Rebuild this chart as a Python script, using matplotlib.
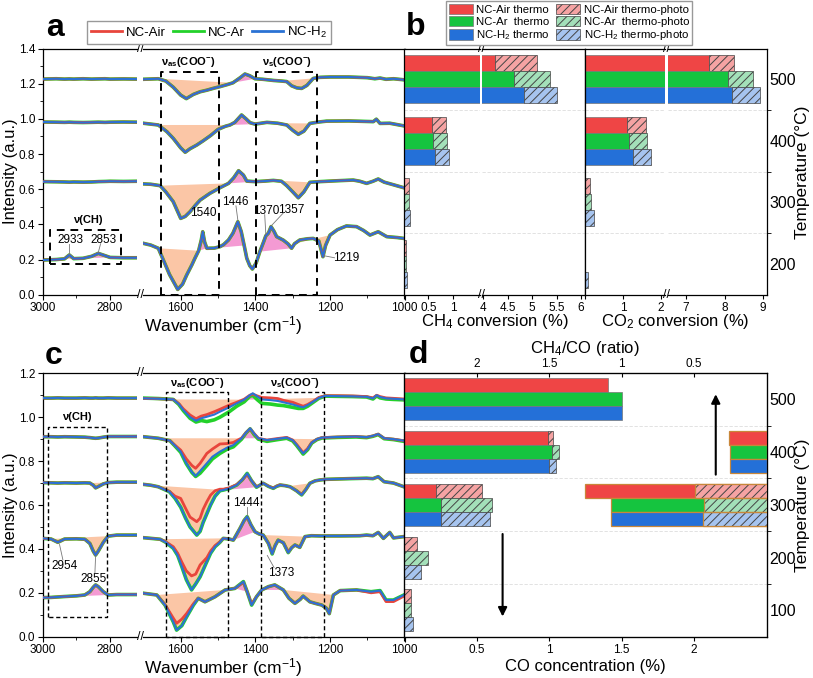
import numpy as np
import matplotlib.pyplot as plt
from matplotlib.lines import Line2D
from matplotlib.patches import Patch
from matplotlib.ticker import FormatStrFormatter

plt.rcParams['font.family'] = ['Liberation Sans', 'DejaVu Sans']
plt.rcParams['mathtext.fontset'] = 'custom'
plt.rcParams['mathtext.rm'] = 'Liberation Sans'
plt.rcParams['mathtext.it'] = 'Liberation Sans:italic'
plt.rcParams['mathtext.bf'] = 'Liberation Sans:bold'
plt.rcParams['hatch.linewidth'] = 0.7

# ---------------- panel a : DRIFTS spectra (NC samples) ----------------
a_ch_wn = [3000, 2960, 2935, 2921, 2908, 2880, 2855, 2835, 2815, 2800, 2760, 2720]
a500_ch = [1.226, 1.228, 1.226, 1.227, 1.226, 1.228, 1.226, 1.227, 1.228, 1.226, 1.227, 1.226]
a400_ch = [0.982, 0.981, 0.98, 0.981, 0.98, 0.979, 0.98, 0.981, 0.98, 0.981, 0.982, 0.981]
a300_ch = [0.643, 0.642, 0.641, 0.64, 0.641, 0.64, 0.641, 0.643, 0.644, 0.645, 0.644, 0.645]
a200_ch = [0.197, 0.2, 0.204, 0.226, 0.205, 0.207, 0.218, 0.235, 0.222, 0.212, 0.21, 0.21]

a500_wn = [1700, 1660, 1640, 1620, 1600, 1585, 1566, 1548, 1530, 1510, 1495, 1475, 1460, 1440, 1428,
           1415, 1401, 1380, 1350, 1330, 1316, 1303, 1289, 1276, 1262, 1245, 1227, 1200, 1150, 1100,
           1080, 1066, 1050, 1030, 1002]
a500_y = [1.225, 1.228, 1.215, 1.18, 1.135, 1.115, 1.139, 1.154, 1.163, 1.175, 1.183, 1.195, 1.205, 1.235,
          1.255, 1.245, 1.228, 1.225, 1.218, 1.215, 1.212, 1.188, 1.176, 1.173, 1.19, 1.23, 1.236, 1.238,
          1.238, 1.234, 1.228, 1.232, 1.225, 1.228, 1.222]

a400_wn = [1700, 1680, 1660, 1637, 1620, 1600, 1588, 1575, 1557, 1540, 1520, 1500, 1480, 1468, 1455,
           1437, 1425, 1414, 1401, 1385, 1369, 1340, 1316, 1300, 1285, 1270, 1254, 1230, 1209, 1150,
           1100, 1084, 1076, 1066, 1040, 1002]
a400_y = [0.975, 0.97, 0.965, 0.927, 0.889, 0.835, 0.81, 0.83, 0.851, 0.875, 0.905, 0.94, 0.958, 0.965,
          0.98, 1.022, 1.0, 0.978, 0.97, 0.975, 0.98, 0.975, 0.965, 0.935, 0.912, 0.93, 0.974, 0.982,
          0.987, 0.988, 0.985, 0.984, 0.998, 0.974, 0.975, 0.96]

a300_wn = [1700, 1680, 1655, 1640, 1620, 1600, 1588, 1575, 1560, 1548, 1522, 1495, 1472, 1458, 1445,
           1432, 1423, 1401, 1375, 1352, 1330, 1316, 1300, 1285, 1270, 1254, 1227, 1180, 1138, 1120,
           1102, 1085, 1071, 1055, 1030, 1002]
a300_y = [0.63, 0.628, 0.62, 0.585, 0.529, 0.434, 0.445, 0.472, 0.51, 0.538, 0.576, 0.608, 0.633, 0.665,
          0.705, 0.68, 0.646, 0.643, 0.646, 0.65, 0.645, 0.62, 0.585, 0.551, 0.585, 0.639, 0.643, 0.648,
          0.652, 0.645, 0.633, 0.645, 0.658, 0.64, 0.625, 0.608]

a200_wn = [1700, 1680, 1660, 1645, 1630, 1608, 1595, 1584, 1570, 1562, 1552, 1545, 1541, 1536, 1530,
           1510, 1495, 1485, 1472, 1460, 1447, 1438, 1430, 1423, 1415, 1408, 1398, 1388, 1378, 1372,
           1365, 1358, 1350, 1343, 1325, 1312, 1303, 1295, 1281, 1260, 1245, 1230, 1219, 1212, 1200,
           1180, 1156, 1129, 1110, 1093, 1071, 1048, 1020, 1002]
a200_y = [0.292, 0.282, 0.264, 0.19, 0.115, 0.03, 0.06, 0.112, 0.17, 0.207, 0.25, 0.31, 0.358, 0.3, 0.264,
          0.265, 0.273, 0.285, 0.311, 0.35, 0.415, 0.36, 0.28, 0.207, 0.165, 0.146, 0.18, 0.245, 0.3,
          0.335, 0.35, 0.387, 0.36, 0.33, 0.31, 0.288, 0.264, 0.29, 0.311, 0.318, 0.32, 0.305, 0.216,
          0.28, 0.339, 0.37, 0.391, 0.387, 0.365, 0.339, 0.358, 0.33, 0.325, 0.32]

# ---------------- panel c : DRIFTS spectra ----------------
c_ch_wn = [3000, 2975, 2955, 2935, 2900, 2875, 2860, 2850, 2843, 2835, 2820, 2806, 2780, 2720]
c500_ch = [1.087, 1.087, 1.088, 1.087, 1.087, 1.088, 1.087, 1.087, 1.088, 1.087, 1.087, 1.088, 1.087, 1.087]
c400_ch = [0.911, 0.911, 0.91, 0.911, 0.91, 0.909, 0.907, 0.905, 0.904, 0.905, 0.909, 0.912, 0.912, 0.912]
c300_ch = [0.702, 0.701, 0.7, 0.701, 0.7, 0.701, 0.7, 0.69, 0.678, 0.684, 0.696, 0.702, 0.704, 0.704]
c200_ch = [0.448, 0.445, 0.43, 0.445, 0.446, 0.444, 0.425, 0.39, 0.372, 0.39, 0.43, 0.458, 0.463, 0.463]
c100_ch = [0.178, 0.179, 0.181, 0.183, 0.186, 0.19, 0.205, 0.225, 0.236, 0.228, 0.205, 0.19, 0.192, 0.192]

c500_wn = [1700, 1660, 1620, 1605, 1593, 1575, 1559, 1545, 1530, 1510, 1495, 1470, 1450, 1430, 1415,
           1407, 1395, 1383, 1360, 1340, 1325, 1300, 1285, 1272, 1260, 1245, 1230, 1213, 1180, 1140,
           1102, 1085, 1075, 1066, 1050, 1030, 1002]
c500_y = [1.086, 1.084, 1.081, 1.06, 1.033, 1.0, 0.984, 0.995, 1.002, 1.012, 1.025, 1.045, 1.063, 1.08,
          1.1, 1.109, 1.095, 1.081, 1.078, 1.074, 1.068, 1.058, 1.05, 1.045, 1.055, 1.071, 1.088, 1.097,
          1.096, 1.095, 1.093, 1.086, 1.1, 1.092, 1.086, 1.084, 1.081]
c500_red = [1.086, 1.084, 1.081, 1.062, 1.038, 1.01, 0.993, 1.005, 1.012, 1.025, 1.036, 1.055, 1.068, 1.082,
            1.1, 1.105, 1.097, 1.09, 1.088, 1.085, 1.077, 1.068, 1.058, 1.05, 1.058, 1.073, 1.09, 1.098,
            1.098, 1.097, 1.094, 1.088, 1.1, 1.094, 1.088, 1.086, 1.083]
c500_green = [1.087, 1.085, 1.081, 1.058, 1.03, 0.995, 0.978, 0.985, 0.98, 0.988, 1.0, 1.025, 1.05, 1.07,
              1.095, 1.1, 1.08, 1.063, 1.06, 1.055, 1.053, 1.045, 1.04, 1.04, 1.05, 1.068, 1.086, 1.096,
              1.095, 1.094, 1.092, 1.083, 1.097, 1.088, 1.083, 1.081, 1.079]

c400_wn = [1700, 1660, 1629, 1615, 1600, 1585, 1570, 1560, 1548, 1530, 1515, 1495, 1475, 1459, 1437,
           1425, 1414, 1403, 1392, 1369, 1340, 1316, 1300, 1289, 1272, 1260, 1249, 1235, 1222, 1180,
           1130, 1102, 1085, 1071, 1055, 1030, 1002]
c400_y = [0.911, 0.904, 0.893, 0.87, 0.843, 0.79, 0.75, 0.732, 0.755, 0.79, 0.82, 0.843, 0.862, 0.873,
          0.904, 0.93, 0.949, 0.925, 0.904, 0.896, 0.902, 0.907, 0.895, 0.873, 0.835, 0.855, 0.884, 0.9,
          0.907, 0.91, 0.912, 0.909, 0.915, 0.923, 0.904, 0.9, 0.893]
c400_red = [0.911, 0.904, 0.893, 0.872, 0.85, 0.81, 0.78, 0.767, 0.79, 0.835, 0.855, 0.878, 0.88, 0.885,
            0.905, 0.93, 0.947, 0.925, 0.904, 0.896, 0.903, 0.908, 0.896, 0.875, 0.838, 0.857, 0.885, 0.9,
            0.907, 0.91, 0.912, 0.909, 0.915, 0.923, 0.904, 0.9, 0.893]
c400_green = [0.911, 0.904, 0.893, 0.868, 0.84, 0.788, 0.748, 0.73, 0.745, 0.78, 0.81, 0.835, 0.855, 0.865,
              0.9, 0.928, 0.947, 0.92, 0.9, 0.89, 0.898, 0.904, 0.892, 0.87, 0.832, 0.852, 0.882, 0.898,
              0.905, 0.908, 0.91, 0.907, 0.913, 0.921, 0.902, 0.898, 0.89]

c300_wn = [1700, 1680, 1660, 1630, 1615, 1600, 1587, 1575, 1557, 1548, 1540, 1530, 1520, 1508, 1495,
           1486, 1470, 1450, 1435, 1422, 1410, 1397, 1388, 1379, 1365, 1352, 1343, 1334, 1320, 1307,
           1290, 1276, 1265, 1254, 1240, 1227, 1210, 1150, 1102, 1085, 1071, 1055, 1030, 1002]
c300_y = [0.694, 0.69, 0.683, 0.66, 0.63, 0.59, 0.54, 0.5, 0.463, 0.48, 0.52, 0.56, 0.6, 0.64, 0.665,
          0.668, 0.675, 0.691, 0.715, 0.744, 0.71, 0.681, 0.69, 0.699, 0.685, 0.676, 0.685, 0.691, 0.688,
          0.683, 0.665, 0.646, 0.67, 0.699, 0.71, 0.714, 0.717, 0.72, 0.722, 0.72, 0.729, 0.706, 0.7, 0.683]
c300_red = [0.694, 0.69, 0.683, 0.662, 0.64, 0.63, 0.585, 0.545, 0.524, 0.54, 0.58, 0.615, 0.645, 0.665,
            0.672, 0.672, 0.678, 0.693, 0.715, 0.74, 0.71, 0.683, 0.69, 0.699, 0.686, 0.677, 0.686, 0.692,
            0.688, 0.683, 0.665, 0.648, 0.67, 0.699, 0.71, 0.714, 0.717, 0.72, 0.722, 0.72, 0.729, 0.706,
            0.7, 0.683]

c200_wn = [1700, 1680, 1655, 1640, 1620, 1608, 1597, 1585, 1571, 1560, 1548, 1530, 1520, 1508, 1495,
           1486, 1470, 1459, 1441, 1430, 1422, 1412, 1401, 1390, 1379, 1365, 1355, 1347, 1339, 1325,
           1312, 1303, 1294, 1281, 1267, 1250, 1227, 1173, 1120, 1102, 1085, 1071, 1057, 1040, 1030, 1002]
c200_y = [0.451, 0.448, 0.444, 0.43, 0.403, 0.37, 0.319, 0.26, 0.213, 0.24, 0.273, 0.342, 0.38, 0.41,
          0.43, 0.448, 0.445, 0.44, 0.494, 0.53, 0.547, 0.51, 0.478, 0.468, 0.463, 0.425, 0.377, 0.415,
          0.44, 0.428, 0.383, 0.405, 0.418, 0.407, 0.456, 0.46, 0.459, 0.459, 0.46, 0.463, 0.46, 0.475,
          0.448, 0.475, 0.45, 0.456]
c200_red = [0.451, 0.448, 0.444, 0.432, 0.41, 0.38, 0.34, 0.3, 0.277, 0.285, 0.327, 0.36, 0.39, 0.415,
            0.432, 0.448, 0.445, 0.44, 0.494, 0.53, 0.545, 0.51, 0.478, 0.468, 0.463, 0.425, 0.38, 0.415,
            0.44, 0.428, 0.385, 0.405, 0.418, 0.407, 0.456, 0.46, 0.459, 0.459, 0.46, 0.463, 0.46, 0.475,
            0.448, 0.475, 0.45, 0.456]

c100_wn = [1700, 1664, 1642, 1620, 1611, 1597, 1584, 1566, 1553, 1535, 1508, 1481, 1455, 1432, 1422,
           1410, 1397, 1383, 1365, 1348, 1325, 1310, 1294, 1280, 1272, 1254, 1240, 1222, 1210, 1202,
           1191, 1173, 1129, 1090, 1066, 1050, 1030, 1002]
c100_y = [0.198, 0.19, 0.144, 0.068, 0.03, 0.05, 0.091, 0.144, 0.175, 0.159, 0.182, 0.213, 0.22, 0.251,
          0.205, 0.144, 0.182, 0.213, 0.228, 0.236, 0.213, 0.175, 0.152, 0.17, 0.185, 0.159, 0.152, 0.144,
          0.13, 0.105, 0.19, 0.21, 0.213, 0.205, 0.21, 0.167, 0.167, 0.19]
c100_red = [0.198, 0.19, 0.146, 0.085, 0.061, 0.08, 0.106, 0.15, 0.175, 0.159, 0.182, 0.213, 0.22, 0.248,
            0.205, 0.148, 0.182, 0.213, 0.228, 0.236, 0.213, 0.175, 0.152, 0.17, 0.185, 0.159, 0.152,
            0.144, 0.13, 0.105, 0.19, 0.21, 0.213, 0.2, 0.205, 0.16, 0.16, 0.185]

# ---------------- panel b : conversions (%) ----------------
temps_b = ['500', '400', '300', '200']
ch4_thermo_air = [4.25, 0.57, 0.01, 0.01]
ch4_photo_air = [5.1, 0.86, 0.1, 0.05]
ch4_thermo_ar = [4.63, 0.59, 0.01, 0.01]
ch4_photo_ar = [5.37, 0.87, 0.1, 0.05]
ch4_thermo_h2 = [4.84, 0.63, 0.01, 0.01]
ch4_photo_h2 = [5.5, 0.92, 0.12, 0.07]

co2_thermo_air = [7.6, 1.1, 0.01, 0.0]
co2_photo_air = [8.25, 1.6, 0.13, 0.01]
co2_thermo_ar = [8.09, 1.17, 0.01, 0.0]
co2_photo_ar = [8.74, 1.64, 0.16, 0.01]
co2_thermo_h2 = [8.2, 1.25, 0.01, 0.0]
co2_photo_h2 = [8.92, 1.73, 0.24, 0.08]

# ---------------- panel d : CO concentration (%) and CH4/CO ratio ----------------
temps_d = ['500', '400', '300', '200', '100']
co_thermo_air = [1.41, 0.99, 0.22, 0.0, 0.0]
co_photo_air = [1.41, 1.03, 0.54, 0.09, 0.05]
co_thermo_ar = [1.5, 1.02, 0.255, 0.0, 0.0]
co_photo_ar = [1.5, 1.07, 0.61, 0.165, 0.05]
co_thermo_h2 = [1.5, 1.0, 0.255, 0.0, 0.0]
co_photo_h2 = [1.5, 1.05, 0.59, 0.12, 0.06]

ratio_thermo_air = [None, 0.26, 1.25, None, None]
ratio_photo_air = [None, None, 0.49, None, None]
ratio_thermo_ar = [None, 0.25, 1.07, None, None]
ratio_photo_ar = [None, None, 0.43, None, None]
ratio_thermo_h2 = [None, 0.25, 1.07, None, None]
ratio_photo_h2 = [None, None, 0.44, None, None]

# colours
C_RED, C_GREEN, C_BLUE = '#e8453c', '#23d12a', '#2a72d4'
BAR = ['#ef4545', '#15c43f', '#2470d8']
LIGHT = ['#f5a3a3', '#a3e0b9', '#a6c4ef']
PEACH, PINK = '#fbc6a6', '#f49ad3'

W, H = 813, 678
fig = plt.figure(figsize=(W / 100, H / 100), dpi=100)


def rect(l, t, r, b):
    return [l / W, 1 - b / H, (r - l) / W, (b - t) / H]


def fpos(x, y):
    return (x / W, 1 - y / H)


def draw_spec(ax, wn, blue, red=None, green=None, fills=()):
    wn = np.asarray(wn)
    blue = np.asarray(blue)
    red = blue if red is None else np.asarray(red)
    green = blue if green is None else np.asarray(green)
    for lo, hi, col in fills:
        m = (wn <= lo) & (wn >= hi)
        ax.fill(wn[m], blue[m], color=col, lw=0, zorder=1)
    ax.plot(wn, green, color=C_GREEN, lw=2.6, zorder=2)
    ax.plot(wn, red, color=C_RED, lw=2.0, zorder=3)
    ax.plot(wn, blue, color=C_BLUE, lw=1.5, zorder=4)


def setup_spec(ax_l, ax_r, ymax):
    ax_l.set_xlim(3000, 2720)
    ax_r.set_xlim(1701, 1000)
    for ax in (ax_l, ax_r):
        ax.set_ylim(0, ymax)
        ax.tick_params(direction='out', length=3.5, width=0.8, labelsize=8.5, pad=2)
        ax.tick_params(which='minor', direction='out', length=2, width=0.6)
        for s in ax.spines.values():
            s.set_linewidth(0.9)
    ax_l.spines['right'].set_visible(False)
    ax_r.spines['left'].set_visible(False)
    ax_r.tick_params(left=False, labelleft=False, which='both')
    ax_l.set_xticks([3000, 2800])
    ax_l.set_xticks([2900], minor=True)
    ax_r.set_xticks([1600, 1400, 1200, 1000])
    ax_r.set_xticks([1500, 1300, 1100], minor=True)
    ax_l.set_yticks(np.arange(0, ymax + 0.01, 0.2))
    ax_l.set_yticks(np.arange(0.1, ymax, 0.2), minor=True)
    ax_l.yaxis.set_major_formatter(FormatStrFormatter('%.1f'))


def dash_box(ax, x0, x1, y0, y1, lw, dashes):
    ax.plot([x0, x0, x1, x1, x0], [y0, y1, y1, y0, y0], color='k', lw=lw,
            dashes=dashes, zorder=6, clip_on=False)


def note(ax, txt, xy_text, p0=None, p1=None, size=8.5):
    ax.text(xy_text[0], xy_text[1], txt, ha='center', va='center', fontsize=size, zorder=7)
    if p0 is not None:
        ax.plot([p0[0], p1[0]], [p0[1], p1[1]], color='#777777', lw=0.6, zorder=7)


nu_as = 'ν$_{\\mathbf{as}}$(COO$^{\\mathbf{-}}$)'
nu_s = 'ν$_{\\mathbf{s}}$(COO$^{\\mathbf{-}}$)'

# ================= panel a =================
axa_l = fig.add_axes(rect(42.7, 48.5, 137, 294.7))
axa_r = fig.add_axes(rect(143, 48.5, 404.7, 294.7))
setup_spec(axa_l, axa_r, 1.4)

draw_spec(axa_l, a_ch_wn, a500_ch)
draw_spec(axa_l, a_ch_wn, a400_ch)
draw_spec(axa_l, a_ch_wn, a300_ch)
draw_spec(axa_l, a_ch_wn, a200_ch, fills=[(2935, 2908, PINK), (2880, 2800, PINK)])
draw_spec(axa_r, a500_wn, a500_y, fills=[(1660, 1460, PEACH), (1460, 1401, PINK), (1330, 1245, PEACH)])
draw_spec(axa_r, a400_wn, a400_y, fills=[(1660, 1468, PEACH), (1468, 1401, PINK), (1340, 1254, PEACH)])
draw_spec(axa_r, a300_wn, a300_y, fills=[(1655, 1472, PEACH), (1472, 1401, PINK), (1352, 1254, PEACH)])
draw_spec(axa_r, a200_wn, a200_y, fills=[(1660, 1552, PEACH), (1552, 1530, PINK), (1510, 1430, PINK),
                                         (1388, 1303, PINK), (1295, 1200, PEACH)])

dash_box(axa_l, 2978, 2768, 0.173, 0.368, 1.4, (4, 3))
dash_box(axa_r, 1653, 1497, 0.0, 1.268, 1.4, (4, 3))
dash_box(axa_r, 1399, 1236, 0.0, 1.268, 1.4, (4, 3))
axa_l.text(2867, 0.425, 'ν(CH)', ha='center', va='center', fontsize=8, fontweight='bold')
axa_r.text(1580, 1.325, nu_as, ha='center', va='center', fontsize=8, fontweight='bold')
axa_r.text(1316, 1.325, nu_s, ha='center', va='center', fontsize=8, fontweight='bold')
note(axa_l, '2933', (2919, 0.311), (2921, 0.29), (2921, 0.232))
note(axa_l, '2853', (2820, 0.311), (2828, 0.29), (2835, 0.24))
note(axa_r, '1540', (1540, 0.463))
note(axa_r, '1446', (1455, 0.529), (1452, 0.505), (1447, 0.425))
note(axa_r, '1370', (1372, 0.478), (1375, 0.455), (1372, 0.345))
note(axa_r, '1357', (1305, 0.481), (1325, 0.465), (1356, 0.395))
note(axa_r, '1219', (1156, 0.207), (1188, 0.21), (1217, 0.222))

# ================= panel c =================
axc_l = fig.add_axes(rect(42.7, 373.3, 137, 636.7))
axc_r = fig.add_axes(rect(143, 373.3, 404.7, 636.7))
setup_spec(axc_l, axc_r, 1.2)

draw_spec(axc_l, c_ch_wn, c500_ch)
draw_spec(axc_l, c_ch_wn, c400_ch)
draw_spec(axc_l, c_ch_wn, c300_ch, fills=[(2860, 2806, PEACH)])
draw_spec(axc_l, c_ch_wn, c200_ch, fills=[(2975, 2806, PEACH)])
draw_spec(axc_l, c_ch_wn, c100_ch, fills=[(3000, 2806, PINK)])
draw_spec(axc_r, c500_wn, c500_y, c500_red, c500_green,
          fills=[(1620, 1430, PEACH), (1430, 1383, PINK), (1383, 1230, PEACH)])
draw_spec(axc_r, c400_wn, c400_y, c400_red, c400_green,
          fills=[(1660, 1437, PEACH), (1437, 1392, PINK), (1340, 1235, PEACH)])
draw_spec(axc_r, c300_wn, c300_y, c300_red,
          fills=[(1680, 1486, PEACH), (1486, 1397, PINK), (1352, 1254, PEACH)])
draw_spec(axc_r, c200_wn, c200_y, c200_red,
          fills=[(1655, 1486, PEACH), (1459, 1401, PINK), (1379, 1267, PEACH)])
draw_spec(axc_r, c100_wn, c100_y, c100_red,
          fills=[(1664, 1481, PEACH), (1455, 1422, PINK), (1383, 1325, PINK), (1325, 1191, PEACH)])

dash_box(axc_l, 2985, 2809, 0.091, 0.954, 1.0, (3, 2))
dash_box(axc_r, 1640, 1474, 0.0, 1.113, 1.0, (3, 2))
dash_box(axc_r, 1385, 1215, 0.0, 1.113, 1.0, (3, 2))
axc_l.text(2899, 1.0, 'ν(CH)', ha='center', va='center', fontsize=8, fontweight='bold')
axc_r.text(1557, 1.154, nu_as, ha='center', va='center', fontsize=8, fontweight='bold')
axc_r.text(1294, 1.154, nu_s, ha='center', va='center', fontsize=8, fontweight='bold')
note(axc_l, '2954', (2934, 0.322), (2940, 0.35), (2950, 0.42))
note(axc_l, '2855', (2850, 0.263), (2845, 0.29), (2843, 0.365))
note(axc_r, '1373', (1330, 0.289), (1350, 0.315), (1368, 0.37))
note(axc_r, '1444', (1423, 0.61), (1423, 0.59), (1423, 0.555))

for ypx in (48.5, 294.7, 373.3, 636.7):
    fig.text(*fpos(140, ypx), '//', ha='center', va='center', fontsize=9)

for yc in (171.6, 505):
    fig.text(*fpos(10.5, yc), 'Intensity (a.u.)', rotation=90, ha='center', va='center', fontsize=12)
fig.text(*fpos(223, 326), 'Wavenumber (cm$^{-1}$)', ha='center', va='center', fontsize=12.5)
fig.text(*fpos(223, 667.5), 'Wavenumber (cm$^{-1}$)', ha='center', va='center', fontsize=12.5)

# ================= panel b =================
bh = 0.26
yb = np.arange(len(temps_b))[::-1]
segs = [((404, 479.5), (0, 1.541), [0, 0.5, 1], ['', '0.5', '1'], 'ch4'),
        ((482, 585), (3.98, 6.08), [4, 4.5, 5, 5.5, 6], ['4', '4.5', '5', '5.5', '6'], 'ch4'),
        ((585, 665), (0, 2.105), [0, 1, 2], ['', '1', '2'], 'co2'),
        ((668, 766.5), (6.532, 9.09), [7, 8, 9], ['7', '8', '9'], 'co2')]
conv = {'ch4': [(ch4_thermo_air, ch4_photo_air), (ch4_thermo_ar, ch4_photo_ar), (ch4_thermo_h2, ch4_photo_h2)],
        'co2': [(co2_thermo_air, co2_photo_air), (co2_thermo_ar, co2_photo_ar), (co2_thermo_h2, co2_photo_h2)]}

axes_b = []
for i, ((l, r), xl, xt, xtl, key) in enumerate(segs):
    ax = fig.add_axes(rect(l, 48.5, r, 294.7))
    axes_b.append(ax)
    for k, (th, ph) in enumerate(conv[key]):
        th = np.array(th)
        ph = np.array(ph)
        yy = yb + (1 - k) * bh
        ax.barh(yy, th, height=bh, color=BAR[k], edgecolor='#777777', lw=0.5, zorder=2)
        ax.barh(yy, ph - th, left=th, height=bh, color=LIGHT[k], edgecolor='#444444',
                hatch='////', lw=0.5, zorder=2)
    for s in (0.5, 1.5, 2.5):
        ax.axhline(s, color='#dddddd', lw=0.6, ls=(0, (4, 2)), zorder=0)
    ax.set_xlim(*xl)
    ax.set_ylim(-0.5, 3.5)
    ax.set_xticks(xt)
    ax.set_xticklabels(xtl)
    ax.tick_params(axis='x', direction='out', length=3, width=0.8, labelsize=8.5, pad=2)
    ax.tick_params(axis='y', left=False, labelleft=False)
    for s in ax.spines.values():
        s.set_linewidth(0.9)
    if i in (0, 2):
        ax.spines['right'].set_visible(False)
    if i in (1, 3):
        ax.spines['left'].set_visible(False)

axb = axes_b[3]
axb.yaxis.tick_right()
axb.set_yticks(yb)
axb.set_yticklabels(temps_b)
axb.set_yticks([0.5, 1.5, 2.5], minor=True)
axb.tick_params(axis='y', which='major', right=True, labelright=True, length=0, labelsize=11.5, pad=2)
axb.tick_params(axis='y', which='minor', right=True, length=3, direction='out')

for xpx in (481, 666.5):
    for ypx in (48.5, 294.7):
        fig.text(*fpos(xpx, ypx), '//', ha='center', va='center', fontsize=9)
fig.text(*fpos(495, 321.7), 'CH$_4$ conversion (%)', ha='center', va='center', fontsize=12)
fig.text(*fpos(675, 321.7), 'CO$_2$ conversion (%)', ha='center', va='center', fontsize=12)
fig.text(*fpos(802, 172), 'Temperature (°C)', rotation=90, ha='center', va='center', fontsize=12.5)

# ================= panel d =================
dh = 0.265
yd = np.arange(len(temps_d))[::-1]
axd = fig.add_axes(rect(404, 373, 766.5, 636.7))
co_sets = [(co_thermo_air, co_photo_air), (co_thermo_ar, co_photo_ar), (co_thermo_h2, co_photo_h2)]
for k, (th, ph) in enumerate(co_sets):
    for j in range(len(temps_d)):
        yy = yd[j] + (1 - k) * dh
        if th[j] > 0:
            axd.barh(yy, th[j], height=dh, color=BAR[k], edgecolor='#777777', lw=0.5, zorder=2)
        if ph[j] > th[j]:
            axd.barh(yy, ph[j] - th[j], left=th[j], height=dh, color=LIGHT[k], edgecolor='#444444',
                     hatch='////', lw=0.5, zorder=2)
for s in (0.5, 1.5, 2.5, 3.5):
    axd.axhline(s, color='#dddddd', lw=0.6, ls=(0, (4, 2)), zorder=0)
axd.set_xlim(0, 2.5)
axd.set_ylim(-0.5, 4.5)
axd.set_xticks([0, 0.5, 1, 1.5, 2])
axd.set_xticklabels(['', '0.5', '1', '1.5', '2'])
axd.tick_params(axis='x', direction='out', length=3, width=0.8, labelsize=8.5, pad=2)
axd.yaxis.tick_right()
axd.set_yticks(yd)
axd.set_yticklabels(temps_d)
axd.set_yticks([0.5, 1.5, 2.5, 3.5], minor=True)
axd.tick_params(axis='y', which='major', length=0, labelsize=11.5, pad=2)
axd.tick_params(axis='y', which='minor', length=3, direction='out')
for s in axd.spines.values():
    s.set_linewidth(0.9)

axd2 = axd.twiny()
ratio_sets = [(ratio_thermo_air, ratio_photo_air), (ratio_thermo_ar, ratio_photo_ar),
              (ratio_thermo_h2, ratio_photo_h2)]
for k, (th, ph) in enumerate(ratio_sets):
    for j in range(len(temps_d)):
        yy = yd[j] + (1 - k) * dh
        if th[j] is not None:
            axd2.barh(yy, th[j], height=dh, color=BAR[k], edgecolor='#c8873a', lw=0.9, zorder=2)
        if ph[j] is not None:
            axd2.barh(yy, ph[j], height=dh, color=LIGHT[k], edgecolor='#444444', hatch='////',
                      lw=0.5, zorder=3)
            axd2.barh(yy, ph[j], height=dh, color='none', edgecolor='#c8873a', lw=0.9, zorder=4)
axd2.set_xlim(2.5, 0)
axd2.set_xticks([2, 1.5, 1, 0.5])
axd2.set_xticklabels(['2', '1.5', '1', '0.5'])
axd2.tick_params(axis='x', direction='in', length=3, width=0.8, labelsize=8.5, pad=2)
axd2.set_ylim(-0.5, 4.5)

axd.annotate('', xy=(2.15, 4.15), xytext=(2.15, 2.52),
             arrowprops=dict(arrowstyle='-|>', lw=1.5, color='k', mutation_scale=13))
axd.annotate('', xy=(0.68, -0.17), xytext=(0.68, 1.5),
             arrowprops=dict(arrowstyle='-|>', lw=1.5, color='k', mutation_scale=13))

fig.text(*fpos(585, 349), 'CH$_4$/CO (ratio)', ha='center', va='center', fontsize=12)
fig.text(*fpos(585, 666), 'CO concentration (%)', ha='center', va='center', fontsize=12)
fig.text(*fpos(802, 505), 'Temperature (°C)', rotation=90, ha='center', va='center', fontsize=12.5)

# ================= legends & panel letters =================
h_a = [Line2D([], [], color=c, lw=2) for c in (C_RED, C_GREEN, C_BLUE)]
fig.legend(h_a, ['NC-Air', 'NC-Ar', 'NC-H$_2$'], loc='center', bbox_to_anchor=fpos(209, 32.5),
           ncol=3, fontsize=9.5, fancybox=False, edgecolor='#999999', framealpha=1,
           handlelength=2.4, handletextpad=0.3, columnspacing=0.5, borderpad=0.3)

h_b = [Patch(facecolor=c, edgecolor='#777777', lw=0.5) for c in BAR] + \
      [Patch(facecolor=c, edgecolor='#444444', hatch='////', lw=0.5) for c in LIGHT]
fig.legend(h_b, ['NC-Air thermo', 'NC-Ar  thermo', 'NC-H$_2$ thermo',
                 'NC-Air thermo-photo', 'NC-Ar  thermo-photo', 'NC-H$_2$ thermo-photo'],
           loc='center', bbox_to_anchor=fpos(569, 23), ncol=2, fontsize=8.2, fancybox=False,
           edgecolor='#999999', framealpha=1, handlelength=2.1, handleheight=1.0,
           handletextpad=0.3, columnspacing=0.6, labelspacing=0.12, borderpad=0.22)

for lab, (x, y) in zip('abcd', [(55, 28), (416, 27), (54, 356), (418, 355)]):
    fig.text(*fpos(x, y), lab, ha='center', va='center', fontsize=23, fontweight='bold')

fig.savefig('out.png', dpi=100)
